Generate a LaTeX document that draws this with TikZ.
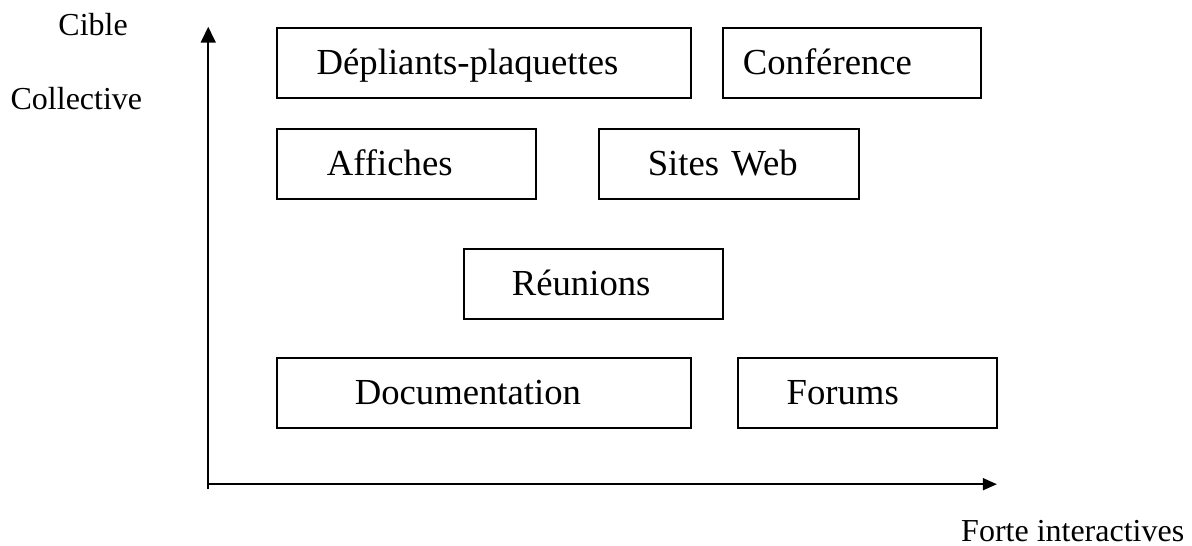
\documentclass[tikz,border=0pt]{standalone}
\usepackage{fontspec}
\setmainfont{Liberation Serif}
\usepackage{tikz}
\usetikzlibrary{arrows.meta}

\begin{document}
\begin{tikzpicture}[
    cadre/.style={draw,line width=0.9pt,anchor=north west,minimum height=1.23cm,
      align=left,inner ysep=0pt,text height=14pt,text depth=2pt,
      font=\fontsize{18.35}{22}\selectfont},
    axe/.style={font=\fontsize{16}{19}\selectfont,inner sep=0pt}]
  \useasboundingbox (0,0) rectangle (20.95,-9.58);
  \foreach \nom/\x/\y/\w/\d/\txt in {
      depl/4.85/-0.47/7.28/0.70/Dépliants-plaquettes,
      conf/12.69/-0.47/4.53/0.35/Conférence,
      aff/4.85/-2.25/4.55/0.88/Affiches,
      web/10.51/-2.25/4.57/0.86/Sites Web,
      reu/8.14/-4.36/4.55/0.84/Réunions,
      doc/4.85/-6.27/7.28/1.37/Documentation,
      forum/12.95/-6.27/4.55/0.86/Forums}{
    \pgfmathsetmacro\tw{\w-2*\d}
    \node[cadre,inner xsep=\d cm,text width=\tw cm] (\nom) at (\x,\y) {\txt};
  }
  \coordinate (O) at (3.66,-8.51);
  \coordinate (ybas) at (3.66,-8.60);
  \coordinate (ytop) at (3.66,-0.47);
  \coordinate (xend) at (17.52,-8.51);
  \draw[line width=0.9pt,-{Triangle[length=8pt,width=7.5pt]}] (ybas) -- (ytop);
  \draw[line width=0.9pt,-{Triangle[length=7pt,width=6pt]}] (O) -- (xend);
  \node[axe,anchor=base west] (cible) at (1.02,-0.63) {Cible};
  \node[axe,anchor=base west] (coll) at (0.18,-1.93) {Collective};
  \node[axe,anchor=base east] (forte) at (20.82,-9.51) {Forte interactives};
\end{tikzpicture}
\end{document}
